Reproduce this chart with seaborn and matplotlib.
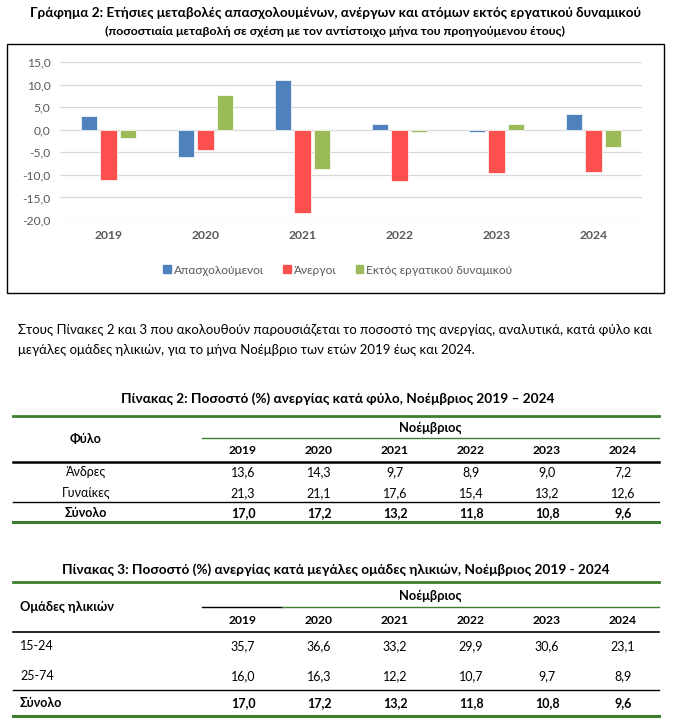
import numpy as np
import pandas as pd
import seaborn as sns
import matplotlib.pyplot as plt
from matplotlib.patches import Rectangle

plt.rcParams['font.family'] = ['Lato', 'DejaVu Sans']

# chart data (annual % change)
years = ["2019", "2020", "2021", "2022", "2023", "2024"]
series = ["Απασχολούμενοι", "Άνεργοι", "Εκτός εργατικού δυναμικού"]
employed = [3.0, -6.1, 11.1, 1.2, -0.4, 3.4]
unemployed = [-11.2, -4.5, -18.4, -11.3, -9.5, -9.4]
inactive = [-1.9, 7.6, -8.8, -0.5, 1.2, -3.8]
colors = ["#4F81BD", "#FF5050", "#9BBB59"]

# table 2: unemployment rate by sex
sex_labels = ["Άνδρες", "Γυναίκες", "Σύνολο"]
men = [13.6, 14.3, 9.7, 8.9, 9.0, 7.2]
women = [21.3, 21.1, 17.6, 15.4, 13.2, 12.6]
total = [17.0, 17.2, 13.2, 11.8, 10.8, 9.6]

# table 3: unemployment rate by age group
age_labels = ["15-24", "25-74", "Σύνολο"]
age_15_24 = [35.7, 36.6, 33.2, 29.9, 30.6, 23.1]
age_25_74 = [16.0, 16.3, 12.2, 10.7, 9.7, 8.9]

W, H = 673, 724
GREEN = "#3C7D2E"
GRAY = "#595959"


def fmt(v):
    return f"{v:.1f}".replace(".", ",")


fig = plt.figure(figsize=(W / 100, H / 100), dpi=100)

# overlay in pixel coordinates for box, texts and tables
ov = fig.add_axes([0, 0, 1, 1], zorder=-1)
ov.set_xlim(0, W)
ov.set_ylim(H, 0)
ov.axis("off")

# ---- chart ----
df = pd.DataFrame({
    "year": years * 3,
    "series": np.repeat(series, len(years)),
    "value": employed + unemployed + inactive,
})

ax = fig.add_axes([60 / W, 1 - 220 / H, 582 / W, 158 / H])
sns.barplot(data=df, x="year", y="value", hue="series", hue_order=series,
            palette=colors, saturation=1, width=0.61, gap=0.17, errorbar=None,
            edgecolor="white", linewidth=0.5, legend=False, ax=ax, zorder=3)
ax.set_xlim(-0.5, 5.5)
ax.set_ylim(-20, 15)
yt = np.arange(-20, 16, 5)
ax.set_yticks(yt)
ax.set_yticklabels([fmt(v) for v in yt])
ax.yaxis.grid(True, color="#D9D9D9", lw=0.9)
ax.set_axisbelow(True)
for s in ax.spines.values():
    s.set_visible(False)
ax.set_xlabel("")
ax.set_ylabel("")
ax.tick_params(axis="y", length=0, pad=7, labelsize=8.7, labelcolor=GRAY)
ax.tick_params(axis="x", length=0, pad=7.5, labelsize=8.7, labelcolor=GRAY)
for t in ax.get_xticklabels():
    t.set_fontweight("bold")
ax.patch.set_alpha(0)

handles = [Rectangle((0, 0), 1, 1, color=c) for c in colors]
fig.legend(handles, series, loc="center", bbox_to_anchor=(338 / W, 1 - 270 / H),
           ncol=3, frameon=False, handlelength=0.65, handleheight=0.65,
           handletextpad=0.25, columnspacing=1.6, fontsize=8.6, labelcolor=GRAY)

ov.add_patch(Rectangle((7, 44), 657, 249, fill=False, ec="black", lw=1))
ov.text(336, 13, "Γράφημα 2: Ετήσιες μεταβολές απασχολουμένων, ανέργων και ατόμων εκτός εργατικού δυναμικού",
        ha="center", va="center", fontsize=9.75, fontweight="bold")
ov.text(335, 31, "(ποσοστιαία μεταβολή σε σχέση με τον αντίστοιχο μήνα του προηγούμενου έτους)",
        ha="center", va="center", fontsize=8.9, fontweight="bold")

# ---- paragraph ----
ov.text(18, 330, "Στους Πίνακες 2 και 3 που ακολουθούν παρουσιάζεται το ποσοστό της ανεργίας, αναλυτικά, κατά φύλο και",
        ha="left", va="center", fontsize=9.5)
ov.text(18, 350, "μεγάλες ομάδες ηλικιών, για το μήνα Νοέμβριο των ετών 2019 έως και 2024.",
        ha="left", va="center", fontsize=9.5)

# ---- tables ----
col0, step = 243, 76
x_left, x_right, x_sub = 13, 659, 202
cols = [col0 + step * i for i in range(len(years))]

# table 2
ov.text(338, 399, "Πίνακας 2: Ποσοστό (%) ανεργίας κατά φύλο, Νοέμβριος 2019 – 2024",
        ha="center", va="center", fontsize=9.8, fontweight="bold")
ov.plot([x_left, x_right], [416, 416], color=GREEN, lw=2)
ov.plot([x_sub, x_right], [438, 438], color=GREEN, lw=1)
ov.plot([x_left, x_right], [462, 462], color="black", lw=1.8)
ov.plot([x_left, x_right], [502, 502], color="black", lw=1)
ov.plot([x_left, x_right], [522, 522], color=GREEN, lw=2.2)
ov.text(86, 439, "Φύλο", ha="center", va="center", fontsize=9, fontweight="bold")
ov.text(430, 428, "Νοέμβριος", ha="center", va="center", fontsize=9.3, fontweight="bold")
for x, y in zip(cols, years):
    ov.text(x, 451, y, ha="center", va="center", fontsize=8.7, fontweight="bold")
for label, row, ry in zip(sex_labels, [men, women, total], [472, 493, 513]):
    w = "bold" if label == "Σύνολο" else "normal"
    ov.text(86, ry, label, ha="center", va="center", fontsize=9, fontweight=w)
    for x, v in zip(cols, row):
        ov.text(x, ry, fmt(v), ha="center", va="center", fontsize=9, fontweight=w)

# table 3
ov.text(336, 570, "Πίνακας 3: Ποσοστό (%) ανεργίας κατά μεγάλες ομάδες ηλικιών, Νοέμβριος 2019 - 2024",
        ha="center", va="center", fontsize=9.8, fontweight="bold")
ov.plot([x_left, x_right], [582, 582], color=GREEN, lw=2)
ov.plot([x_sub, 282], [607, 607], color="black", lw=1)
ov.plot([282, x_right], [607, 607], color=GREEN, lw=1)
ov.plot([x_left, x_right], [632, 632], color="black", lw=1.2)
ov.plot([x_left, x_right], [690, 690], color="black", lw=1)
ov.plot([x_left, x_right], [716, 716], color=GREEN, lw=2.2)
ov.text(20, 607, "Ομάδες ηλικιών", ha="left", va="center", fontsize=9.3, fontweight="bold")
ov.text(430, 596, "Νοέμβριος", ha="center", va="center", fontsize=9.3, fontweight="bold")
for x, y in zip(cols, years):
    ov.text(x, 620, y, ha="center", va="center", fontsize=8.7, fontweight="bold")
for label, row, ry in zip(age_labels, [age_15_24, age_25_74, total], [646, 676, 703]):
    w = "bold" if label == "Σύνολο" else "normal"
    ov.text(20, ry, label, ha="left", va="center", fontsize=9, fontweight=w)
    for x, v in zip(cols, row):
        ov.text(x, ry, fmt(v), ha="center", va="center", fontsize=9, fontweight=w)

fig.savefig("out.png", dpi=100, facecolor="white")
